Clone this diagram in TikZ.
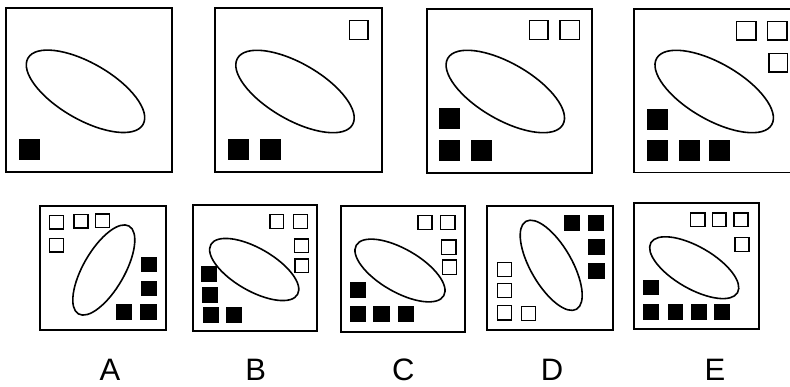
\documentclass[tikz,border=0pt]{standalone}
\usepackage{fontspec}
\setmainfont{Liberation Sans}
\begin{document}
\begin{tikzpicture}[x=1pt,y=-1pt,
  panel/.style={draw=black,line width=1.8pt},
  ell/.style={draw=black,line width=1.6pt},
  osq/.style={draw=black,line width=1.5pt},
  fsq/.style={fill=black},
  lab/.style={anchor=base,inner sep=0pt,font=\fontsize{31}{36}\selectfont}]
\useasboundingbox (0,0) rectangle (790,387);
\clip (0,0) rectangle (790,387);
% ---------- top row ----------
% panel 1
\draw[panel] (6,8.3) rectangle (171.7,172.3);
\draw[ell,rotate around={-30:(85.5,91.3)}] (85.5,91.3) ellipse [x radius=66.4pt,y radius=28.2pt];
\fill[fsq] (19,139.3) rectangle (39.7,160.3);
% panel 2
\draw[panel] (215.3,8.3) rectangle (381.7,172.3);
\draw[ell,rotate around={-30:(295,91.5)}] (295,91.5) ellipse [x radius=66.4pt,y radius=28.2pt];
\draw[osq] (349.4,20.7) rectangle (368,39.3);
\fill[fsq] (228,139.3) rectangle (249,160.3);
\fill[fsq] (260,139.3) rectangle (281,160.3);
% panel 3
\draw[panel] (426.7,8.7) rectangle (592.3,172.7);
\draw[ell,rotate around={-30:(505.3,91.5)}] (505.3,91.5) ellipse [x radius=66.4pt,y radius=28.2pt];
\draw[osq] (529.7,20.7) rectangle (548,39.3);
\draw[osq] (560,20.7) rectangle (579.3,39.3);
\fill[fsq] (439,108.3) rectangle (460,129.3);
\fill[fsq] (439,140) rectangle (460,160.7);
\fill[fsq] (471,140) rectangle (492,160.7);
% panel 4
\draw[panel] (634.3,8.7) rectangle (800,172.5);
\draw[ell,rotate around={-30:(714.2,91.5)}] (714.2,91.5) ellipse [x radius=66.4pt,y radius=28.2pt];
\draw[osq] (736.7,21.4) rectangle (756,40);
\draw[osq] (767.7,21.4) rectangle (787,40);
\draw[osq] (769,53.4) rectangle (787.6,72);
\fill[fsq] (647,109) rectangle (668,129.7);
\fill[fsq] (647,140) rectangle (668,161);
\fill[fsq] (679,140.3) rectangle (700,161);
\fill[fsq] (709,140.3) rectangle (730,161);
% ---------- bottom row ----------
% A
\draw[panel] (39.7,205.7) rectangle (165.7,330);
\draw[ell,rotate around={60:(103.8,270)}] (103.8,270) ellipse [x radius=50.7pt,y radius=20.6pt];
\draw[osq] (49.7,215.7) rectangle (63.7,229);
\draw[osq] (74,214.7) rectangle (88,228);
\draw[osq] (95.4,214) rectangle (109.4,227.3);
\draw[osq] (49.7,238.4) rectangle (63.7,252);
\fill[fsq] (141.3,256.7) rectangle (157.3,272.3);
\fill[fsq] (141.3,280.7) rectangle (157.3,296);
\fill[fsq] (116,304.3) rectangle (132.3,320);
\fill[fsq] (140.3,304.3) rectangle (156.7,320);
% B
\draw[panel] (192.7,204.7) rectangle (317.3,330.7);
\draw[ell,rotate around={-30:(254.2,269.5)}] (254.2,269.5) ellipse [x radius=50pt,y radius=21.3pt];
\draw[osq] (270,214.7) rectangle (283.7,228.3);
\draw[osq] (293.7,214.7) rectangle (307.7,228.3);
\draw[osq] (294.4,239) rectangle (308.4,252.7);
\draw[osq] (295,259) rectangle (308.7,272.7);
\fill[fsq] (201,266) rectangle (216.7,281.7);
\fill[fsq] (202,286.7) rectangle (218,302.7);
\fill[fsq] (203,306.7) rectangle (219,322.7);
\fill[fsq] (226.3,306.7) rectangle (242,322.7);
% C
\draw[panel] (340.7,206) rectangle (465,331.7);
\draw[ell,rotate around={-30:(400,270.5)}] (400,270.5) ellipse [x radius=50.5pt,y radius=21.5pt];
\draw[osq] (418,215.7) rectangle (432,229.3);
\draw[osq] (440.7,215.7) rectangle (455,229.3);
\draw[osq] (441.7,240) rectangle (456,254.3);
\draw[osq] (442.4,260) rectangle (456.3,274.3);
\fill[fsq] (350,281.7) rectangle (366,297.7);
\fill[fsq] (350,306) rectangle (366,322.3);
\fill[fsq] (373.3,306) rectangle (390,322.3);
\fill[fsq] (397.7,306) rectangle (414,322.3);
% D
\draw[panel] (487.3,205.7) rectangle (613.3,330);
\draw[ell,rotate around={-60:(551.2,265.3)}] (551.2,265.3) ellipse [x radius=50.7pt,y radius=20.6pt];
\fill[fsq] (563.7,215) rectangle (580,230.7);
\fill[fsq] (587.7,215) rectangle (604,230.7);
\fill[fsq] (588.3,239) rectangle (604.7,255);
\fill[fsq] (588.3,262.7) rectangle (604.7,279);
\draw[osq] (497.4,262.4) rectangle (511.6,276.6);
\draw[osq] (497.4,283.4) rectangle (511.6,297.6);
\draw[osq] (497.4,305.7) rectangle (511.6,320);
\draw[osq] (521.4,306.7) rectangle (535.3,320.6);
% E
\draw[panel] (633.7,203.3) rectangle (759,328.7);
\draw[ell,rotate around={-30:(694.2,267.7)}] (694.2,267.7) ellipse [x radius=50pt,y radius=21pt];
\draw[osq] (690.7,213) rectangle (705,226.6);
\draw[osq] (712.4,213) rectangle (726,226.6);
\draw[osq] (734,213) rectangle (748,226.6);
\draw[osq] (735,237.4) rectangle (749,251.3);
\fill[fsq] (643.3,280) rectangle (659.3,295.3);
\fill[fsq] (643.3,304.3) rectangle (659.3,320);
\fill[fsq] (667.7,304.3) rectangle (683.3,320);
\fill[fsq] (690.7,304.3) rectangle (706.7,320);
\fill[fsq] (714,304.3) rectangle (730,320);
% labels
\node[lab] (labA) at (110,381) {A};
\node[lab] (labB) at (255.8,381) {B};
\node[lab] (labC) at (403.3,381) {C};
\node[lab] (labD) at (552,381) {D};
\node[lab] (labE) at (715,381) {E};
\end{tikzpicture}
\end{document}
